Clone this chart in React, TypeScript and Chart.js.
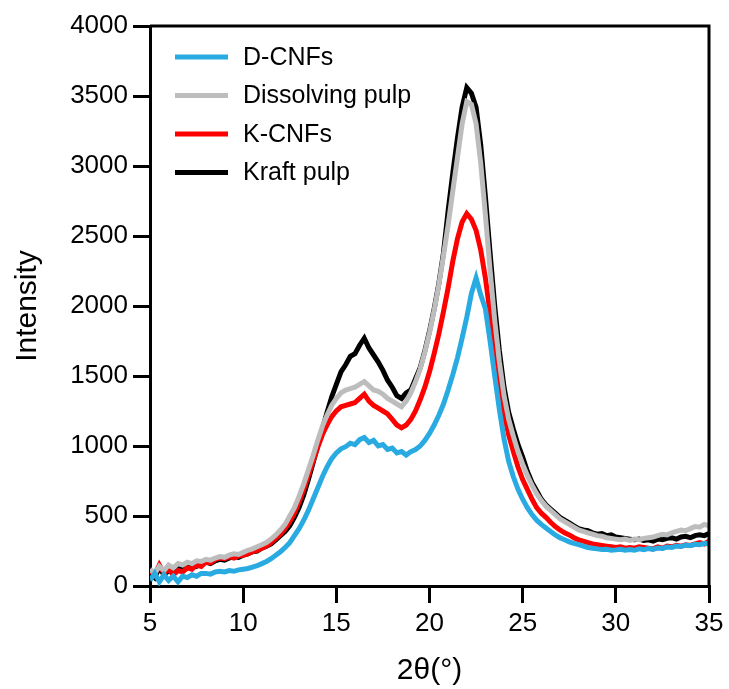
import React, { useEffect, useRef } from "react";
import { Chart, registerables } from "chart.js";

Chart.register(...registerables);

const TWO_THETA = [
  5.0, 5.25, 5.5, 5.75, 6.0, 6.25, 6.5, 6.75, 7.0, 7.25, 7.5, 7.75, 8.0, 8.25, 8.5, 8.75,
  9.0, 9.25, 9.5, 9.75, 10.0, 10.25, 10.5, 10.75, 11.0, 11.25, 11.5, 11.75, 12.0, 12.25, 12.5, 12.75,
  13.0, 13.25, 13.5, 13.75, 14.0, 14.25, 14.5, 14.75, 15.0, 15.25, 15.5, 15.75, 16.0, 16.25, 16.5, 16.75,
  17.0, 17.25, 17.5, 17.75, 18.0, 18.25, 18.5, 18.75, 19.0, 19.25, 19.5, 19.75, 20.0, 20.25, 20.5, 20.75,
  21.0, 21.25, 21.5, 21.75, 22.0, 22.25, 22.5, 22.75, 23.0, 23.25, 23.5, 23.75, 24.0, 24.25, 24.5, 24.75,
  25.0, 25.25, 25.5, 25.75, 26.0, 26.25, 26.5, 26.75, 27.0, 27.25, 27.5, 27.75, 28.0, 28.25, 28.5, 28.75,
  29.0, 29.25, 29.5, 29.75, 30.0, 30.25, 30.5, 30.75, 31.0, 31.25, 31.5, 31.75, 32.0, 32.25, 32.5, 32.75,
  33.0, 33.25, 33.5, 33.75, 34.0, 34.25, 34.5, 34.75, 35.0,
];

const D_CNFS = [
  40, 90, 30, 80, 40, 70, 30, 70, 60, 80, 70, 90, 90, 85, 100, 105,
  100, 110, 105, 115, 120, 125, 135, 145, 160, 175, 195, 220, 245, 275, 310, 360,
  410, 470, 540, 620, 700, 780, 850, 910, 950, 980, 995, 1020, 1010, 1045, 1060, 1025,
  1040, 1000, 1010, 975, 985, 950, 960, 935, 960, 975, 1000, 1040, 1090, 1150, 1220, 1300,
  1400, 1510, 1630, 1770, 1920, 2090, 2200, 2080, 1980, 1750, 1500, 1260, 1050, 890, 780, 690,
  620, 560, 510, 470, 440, 415, 390, 365, 345, 330, 315, 305, 295, 285, 275, 270,
  265, 260, 262, 255, 258, 262, 255, 260, 255, 265, 260, 268, 262, 272, 268, 278,
  275, 285, 282, 292, 288, 298, 295, 305, 300,
];

const DISSOLVING_PULP = [
  120, 90, 140, 110, 150, 130, 160, 150, 170, 160, 180, 175, 190, 185, 200, 210,
  205, 220, 230, 225, 240, 255, 265, 280, 295, 310, 335, 365, 400, 440, 500, 560,
  640, 730, 830, 930, 1040, 1140, 1220, 1290, 1340, 1380, 1400, 1410, 1420, 1440, 1460, 1430,
  1400, 1390, 1370, 1340, 1320, 1300, 1280, 1320, 1380, 1460, 1550, 1670, 1810, 1970, 2150, 2360,
  2580, 2820, 3060, 3300, 3460, 3440, 3300, 3020, 2650, 2260, 1900, 1600, 1360, 1190, 1070, 960,
  870, 790, 720, 660, 610, 570, 540, 510, 480, 460, 440, 420, 400, 390, 380, 370,
  360, 355, 345, 340, 335, 330, 335, 325, 335, 330, 340, 345, 350, 360, 370, 365,
  380, 390, 400, 395, 410, 425, 420, 440, 430,
];

const K_CNFS = [
  110, 80, 150, 90, 120, 80, 110, 100, 130, 120, 150, 140, 170, 165, 190, 200,
  195, 210, 200, 215, 220, 230, 245, 255, 270, 285, 310, 340, 370, 410, 460, 520,
  600, 690, 790, 890, 990, 1080, 1150, 1210, 1250, 1280, 1290, 1300, 1310, 1340, 1370, 1320,
  1290, 1270, 1250, 1230, 1190, 1150, 1130, 1150, 1190, 1250, 1330, 1420, 1530, 1660, 1800, 1960,
  2130, 2320, 2480, 2600, 2660, 2620, 2540, 2400, 2200, 1950, 1700, 1450, 1230, 1080, 960, 850,
  760, 690, 620, 560, 520, 490, 455, 425, 400, 380, 365, 345, 330, 320, 310, 300,
  295, 290, 285, 280, 275, 280, 270, 275, 270, 280, 275, 270, 265, 280, 270, 285,
  280, 290, 285, 295, 290, 300, 310, 300, 320,
];

const KRAFT_PULP = [
  90, 60, 130, 80, 110, 100, 140, 120, 130, 150, 140, 160, 170, 160, 180, 190,
  185, 200, 210, 205, 220, 230, 245, 250, 270, 285, 300, 330, 360, 390, 430, 490,
  560, 650, 760, 880, 1000, 1120, 1240, 1350, 1440, 1530, 1580, 1640, 1660, 1720, 1770, 1700,
  1650, 1600, 1540, 1470, 1420, 1360, 1340, 1380, 1400, 1480, 1560, 1680, 1820, 1980, 2160, 2380,
  2680, 2950, 3200, 3420, 3560, 3520, 3420, 3150, 2780, 2380, 2000, 1680, 1420, 1240, 1120, 1010,
  920, 820, 740, 680, 620, 580, 550, 520, 490, 470, 450, 430, 410, 400, 395, 380,
  370, 375, 360, 365, 350, 345, 340, 335, 330, 335, 325, 330, 320, 335, 330, 340,
  345, 335, 350, 355, 345, 360, 365, 360, 375,
];

const SERIES_NAMES = ["D-CNFs", "Dissolving pulp", "K-CNFs", "Kraft pulp"];
const SERIES_COLORS = ["#29abe2", "#bdbdbd", "#ff0000", "#000000"];
const SERIES_VALUES = [D_CNFS, DISSOLVING_PULP, K_CNFS, KRAFT_PULP];

const X_TICKS = [5, 10, 15, 20, 25, 30, 35];
const Y_TICKS = [0, 500, 1000, 1500, 2000, 2500, 3000, 3500, 4000];

const FONT = "'Liberation Sans', Arial, sans-serif";

const framePlugin = {
  id: "frameAndLegend",
  afterDatasetsDraw(chart: any) {
    const { ctx, chartArea } = chart;
    ctx.save();
    ctx.strokeStyle = "#000";
    ctx.lineWidth = 3;
    ctx.beginPath();
    ctx.moveTo(chartArea.left, chartArea.top);
    ctx.lineTo(chartArea.right, chartArea.top);
    ctx.lineTo(chartArea.right, chartArea.bottom);
    ctx.stroke();

    // legend inside top-left
    const x0 = chartArea.left + 25;
    const x1 = x0 + 53;
    const tx = x1 + 15;
    ctx.font = `25px ${FONT}`;
    ctx.textBaseline = "middle";
    ctx.textAlign = "left";
    SERIES_NAMES.forEach((name, i) => {
      const y = chartArea.top + 31 + i * 38.5;
      ctx.strokeStyle = SERIES_COLORS[i];
      ctx.lineWidth = 5;
      ctx.beginPath();
      ctx.moveTo(x0, y);
      ctx.lineTo(x1, y);
      ctx.stroke();
      ctx.fillStyle = "#000";
      ctx.fillText(name, tx, y + 1);
    });
    ctx.restore();
  },
};

export default function App() {
  const canvasRef = useRef<HTMLCanvasElement | null>(null);

  useEffect(() => {
    const canvas = canvasRef.current;
    if (!canvas) return;
    const chart = new Chart(canvas, {
      type: "line",
      data: {
        datasets: SERIES_NAMES.map((name, i) => ({
          label: name,
          data: TWO_THETA.map((x, j) => ({ x, y: SERIES_VALUES[i][j] })),
          borderColor: SERIES_COLORS[i],
          backgroundColor: SERIES_COLORS[i],
          borderWidth: 5,
          pointRadius: 0,
          tension: 0,
          fill: false,
        })),
      },
      options: {
        responsive: false,
        animation: false,
        events: [],
        layout: { padding: { left: 0, right: 20, top: 26, bottom: 0 } },
        plugins: {
          legend: { display: false },
          tooltip: { enabled: false },
        },
        scales: {
          x: {
            type: "linear",
            min: 5,
            max: 35,
            afterBuildTicks: (scale: any) => {
              scale.ticks = X_TICKS.map((v) => ({ value: v }));
            },
            afterFit: (scale: any) => {
              scale.height = 103;
            },
            ticks: {
              color: "#000",
              font: { family: FONT, size: 26 },
              padding: 5,
              maxRotation: 0,
              autoSkip: false,
              callback: (v: any) => String(v),
            },
            grid: {
              display: true,
              drawOnChartArea: false,
              drawTicks: true,
              tickLength: 17,
              lineWidth: 3,
              color: "#000",
            },
            border: { display: true, color: "#000", width: 3 },
            title: {
              display: true,
              text: "2θ(°)",
              color: "#000",
              font: { family: FONT, size: 30 },
              padding: { top: 0, bottom: 0 },
            },
          },
          y: {
            type: "linear",
            min: 0,
            max: 4000,
            afterBuildTicks: (scale: any) => {
              scale.ticks = Y_TICKS.map((v) => ({ value: v }));
            },
            afterFit: (scale: any) => {
              scale.width = 150;
            },
            ticks: {
              color: "#000",
              font: { family: FONT, size: 26 },
              padding: 5,
              autoSkip: false,
              callback: (v: any) => String(v),
            },
            grid: {
              display: true,
              drawOnChartArea: false,
              drawTicks: true,
              tickLength: 17,
              lineWidth: 3,
              color: "#000",
            },
            border: { display: true, color: "#000", width: 3 },
            title: {
              display: true,
              text: "Intensity",
              color: "#000",
              font: { family: FONT, size: 30 },
              padding: { top: 10, bottom: 0 },
            },
          },
        },
      },
      plugins: [framePlugin],
    });
    return () => chart.destroy();
  }, []);

  return (
    <div style={{ position: "fixed", left: 0, top: 0, width: 729, height: 689, background: "#fff" }}>
      <canvas ref={canvasRef} width={729} height={689} style={{ display: "block", width: 729, height: 689 }} />
    </div>
  );
}
